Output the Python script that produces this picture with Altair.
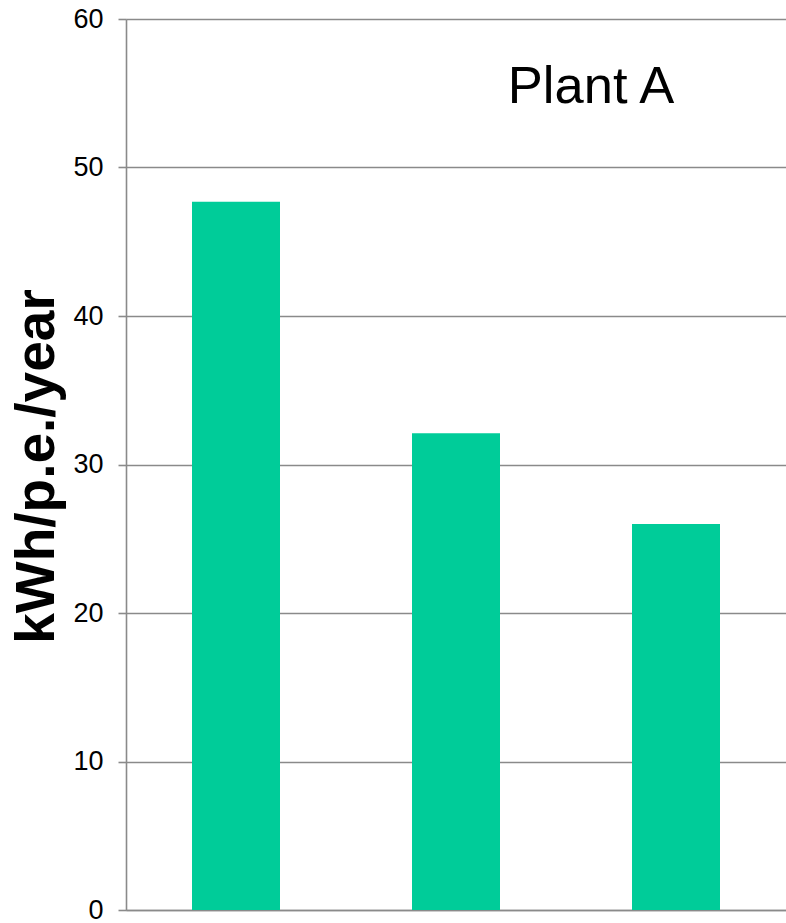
import altair as alt
import pandas as pd

categories = ["Period 1", "Period 2", "Period 3"]
values = [47.7, 32.1, 26.0]
label_text = ["Plant A"]

df = pd.DataFrame({"cat": categories, "value": values})
FONT = "Liberation Sans"
GRAY = "#8a8a8a"

bars = alt.Chart(df).mark_bar(color="#00CC99").encode(
    x=alt.X("cat:N", sort=categories,
            scale=alt.Scale(paddingInner=0.6, paddingOuter=0.3),
            axis=alt.Axis(title=None, labels=False, ticks=False,
                          domainColor=GRAY, domainWidth=1.6)),
    y=alt.Y("value:Q", scale=alt.Scale(domain=[0, 60], nice=False),
            axis=alt.Axis(values=[0, 10, 20, 30, 40, 50, 60],
                          title="kWh/p.e./year", titleFont=FONT,
                          titleFontSize=55, titleFontWeight="bold",
                          titleColor="black", titleAngle=270,
                          titleAlign="center", titleBaseline="alphabetic",
                          titleX=-73, titleY=447,
                          labelFont=FONT, labelFontSize=27, labelColor="black",
                          labelPadding=15, tickSize=8, tickColor=GRAY,
                          tickWidth=1.6, domainColor=GRAY, domainWidth=1.6,
                          grid=True, gridColor=GRAY, gridWidth=1.6)),
)

txt = alt.Chart(pd.DataFrame({"t": label_text})).mark_text(
    font=FONT, fontSize=52.5, color="black", align="center",
    baseline="alphabetic").encode(
    text="t:N", x=alt.value(465), y=alt.value(84))

chart = alt.layer(bars, txt).properties(
    width=660, height=891,
    autosize=alt.AutoSizeParams(type="none"),
    padding={"left": 126, "top": 19, "right": 0, "bottom": 13},
).configure_view(stroke=None).configure(background="white")

chart.save("out.html", embed_options={"renderer": "svg", "actions": False})
